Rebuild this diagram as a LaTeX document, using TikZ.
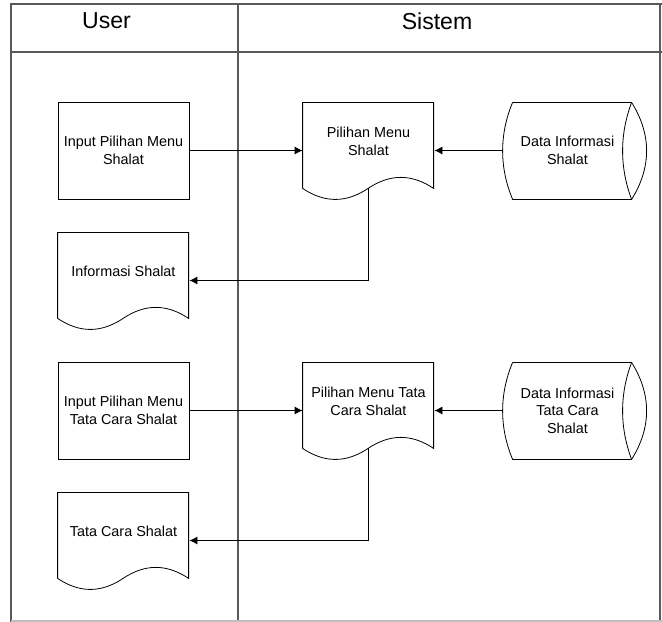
\documentclass[tikz,border=0pt]{standalone}
\usepackage{fontspec}
\setmainfont{Liberation Sans}
\usetikzlibrary{arrows.meta,positioning}

\tikzset{
  procbox/.style={draw, rectangle, minimum width=98.25pt, minimum height=72.75pt, inner sep=0pt, align=center},
  docbox/.style={rectangle, minimum width=98.25pt, minimum height=72.75pt, inner sep=0pt},
  storebox/.style={rectangle, minimum width=108pt, minimum height=72.75pt, inner sep=0pt},
  doctext/.style={align=center, yshift=6.75pt},
  storetext/.style={align=center, xshift=-5.6pt},
  lane/.style={draw=black!65, line width=0.8pt},
  headtext/.style={font=\fontsize{17.3}{20}\selectfont}
}

\begin{document}
\begin{tikzpicture}[x=0.75pt, y=-0.75pt, node distance=97.5pt, on grid,
    every node/.style={font=\fontsize{10.8}{13.2}\selectfont},
    line width=0.6pt, >={Latex[length=6pt,width=6pt]}]
  \useasboundingbox (0,0) rectangle (662,622);

  % swimlanes
  \draw[lane] (11,622) -- (11,4) -- (662,4);
  \draw[lane] (11,52) -- (662,52);
  \draw[lane] (238,4) -- (238,622);
  \draw[lane] (660,4) -- (660,622);
  \draw[black!25, line width=0.8pt] (11,621) -- (662,621);
  \node[headtext] (user) at (106.5,21) {User};
  \node[headtext] (sistem) at (437,21) {Sistem};

  % menu shalat
  \node[procbox] (in1) at (123.5,150.5) {Input Pilihan Menu\\Shalat};
  \node[docbox, right=183.75pt of in1, label={[doctext]center:Pilihan Menu\\Shalat}] (pm1) {};
  \node[storebox, right=154.875pt of pm1, label={[storetext]center:Data Informasi\\Shalat}] (db1) {};
  \node[docbox, below=of in1, label={[doctext]center:Informasi Shalat}] (info1) {};

  % menu tata cara shalat
  \node[procbox, below=of info1] (in2) {Input Pilihan Menu\\Tata Cara Shalat};
  \node[docbox, right=183.75pt of in2, label={[doctext]center:Pilihan Menu Tata\\Cara Shalat}] (pm2) {};
  \node[storebox, right=154.875pt of pm2, label={[storetext]center:Data Informasi\\Tata Cara\\Shalat}] (db2) {};
  \node[docbox, below=of in2, label={[doctext]center:Tata Cara Shalat}] (info2) {};

  % document outlines
  \foreach \n in {pm1,info1,pm2,info2}{
    \begin{scope}[shift={(\n.south west)}]
      \draw (0,-11) -- (0,-97) -- (131,-97) -- (131,-11)
        .. controls (109,-25.7) and (87.5,-25.7) .. (65.5,-11)
        .. controls (43.5,3.7) and (22,3.7) .. (0,-11);
    \end{scope}
  }
  % data store outlines
  \foreach \n in {db1,db2}{
    \begin{scope}[shift={(\n.south west)}]
      \draw (10,-97) -- (129,-97)
        .. controls (149,-65) and (149,-32) .. (129,0) -- (10,0)
        .. controls (-3.3,-32) and (-3.3,-65) .. (10,-97);
      \draw (129,-97) .. controls (117,-65) and (117,-32) .. (129,0);
    \end{scope}
  }

  \path[->]
    (in1) edge (pm1)
    (db1) edge (pm1)
    (in2) edge (pm2)
    (db2) edge (pm2);
  \draw[->] ([yshift=8.25pt]pm1.south) |- (info1);
  \draw[->] ([yshift=8.25pt]pm2.south) |- (info2);
\end{tikzpicture}
\end{document}
